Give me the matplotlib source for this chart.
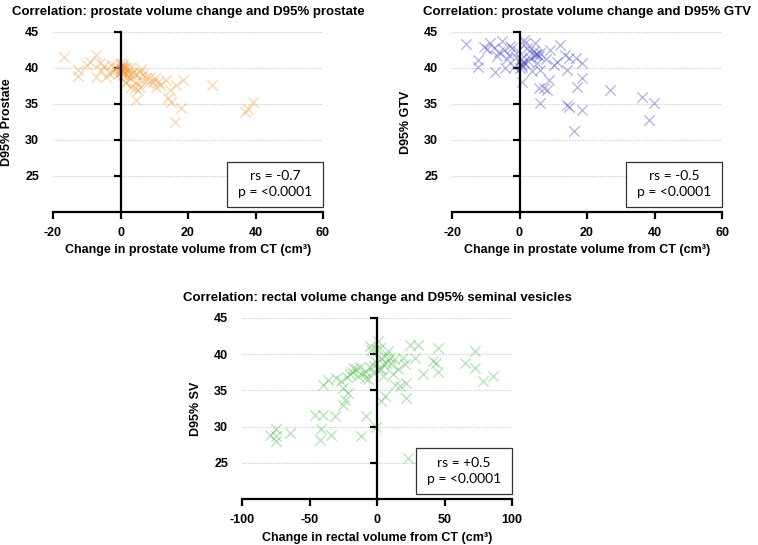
import matplotlib
matplotlib.use("Agg")
import matplotlib.pyplot as plt
from matplotlib.patches import Rectangle

plt.rcParams['font.family'] = ['Liberation Sans', 'DejaVu Sans']
plt.rcParams['axes.unicode_minus'] = False

# ---------------- data ----------------
# Panel 1: prostate volume change vs D95% prostate
p1_x = [-16.8, -12.6, -12.6, -9.1, -7.2, -6.2, -7.2, -5.7, -4.2, -2.7, -2.2, -1.2, -0.7,
        -0.2, 0.2, 0.7, 0.0, 1.2, 0.3, 0.5, 0.4, 0.8, 0.1, 2.2, 2.7, 3.2, 4.7, 6.2, 6.7,
        8.1, 8.6, 10.1, 11.1, 11.6, 3.2, 4.2, 5.2, 1.2, 0.7, 1.7, 3.7, 4.7, 5.7, 4.7,
        5.7, 7.7, 9.6, 10.6, 13.6, 14.6, 14.1, 15.1, 16.0, 16.5, 18.5, 18.0, 27.0, 36.8,
        37.8, 39.3, -3.5, -1.5, 1.8, 2.0, 3.0, 6.0, -4.8, -9.8, 0.6, 1.0]
p1_y = [41.5, 39.75, 38.9, 40.9, 41.8, 40.7, 38.8, 39.75, 38.8, 40.4, 39.5, 40.2, 39.1,
        40.7, 40.0, 39.75, 39.5, 40.2, 40.4, 39.9, 39.6, 40.1, 39.8, 39.5, 38.6, 40.2, 39.1, 38.4, 39.1,
        37.9, 38.8, 38.6, 38.1, 37.7, 37.4, 37.2, 37.0, 38.1, 39.0, 37.9, 39.5, 38.1, 37.4, 35.6,
        39.5, 38.6, 38.1, 37.4, 38.4, 37.0, 35.8, 35.3, 32.5, 37.7, 38.4, 34.5, 37.7, 33.9,
        34.3, 35.3, 39.3, 39.9, 40.0, 38.9, 39.2, 39.8, 40.3, 40.4, 40.6, 39.3]

# Panel 2: prostate volume change vs D95% GTV
p2_x = [-16.0, -12.3, -12.3, -8.6, -7.7, -7.2, -6.7, -5.2, -4.7, -4.2, -3.2, -2.2, -1.7,
        0.3, 0.6, 1.0, 0.1, 0.8, 1.2, 1.7, 2.2, 0.7, 3.2, 4.2, 4.7, 5.2, 5.7, 6.2, 5.2, 6.2,
        5.7, 6.2, 7.2, 8.1, 8.6, 9.1, 10.1, 11.1, 12.1, 13.6, 14.1, 14.6, 14.1, 14.6, 16.1,
        16.6, 17.0, 18.5, 18.5, 18.5, 26.9, 36.3, 38.3, 39.8, -9.5, -6.0, -3.8, -1.0, -0.5,
        2.5, 3.8, 4.5, 5.0, 0.4, 1.4, 2.8, -2.8, 7.8, -10.5]
p2_y = [43.3, 41.1, 40.1, 43.5, 42.8, 39.5, 41.6, 43.7, 42.5, 40.0, 41.8, 42.8, 40.2,
        40.5, 40.2, 40.8, 40.0, 40.4, 43.9, 43.5, 42.8, 38.1, 41.4, 42.3, 43.5, 41.9, 41.6, 42.1, 40.7, 39.7,
        37.2, 35.1, 37.2, 37.0, 38.4, 42.5, 40.4, 40.9, 43.2, 41.8, 39.7, 41.4, 34.9, 34.6, 31.2,
        41.4, 37.4, 40.7, 38.6, 34.2, 37.0, 36.0, 32.8, 35.1, 42.6, 42.2, 41.2, 41.5, 42.3,
        41.0, 39.6, 41.8, 42.0, 41.2, 40.9, 42.4, 43.0, 41.3, 42.9]

# Panel 3: rectal volume change vs D95% seminal vesicles
p3_x = [-79.5, -75.1, -74.6, -75.1, -64.7, -46.2, -40.0, -31.4, -41.2, -42.5, -33.8,
        -40.0, -36.3, -30.1, -26.4, -25.2, -25.2, -24.0, -21.5, -20.2, -17.8, -15.3, -14.1,
        -12.8, -10.4, -9.1, -11.6, -7.9, -5.4, -4.2, -5.4, -3.0, -1.7, 0.7, 2.0, 3.2, 4.4,
        3.2, 4.4, 3.2, 5.7, 6.9, 8.1, 9.4, 10.6, 11.8, 13.1, 15.5, 16.8, 19.3, 20.5, 21.7,
        21.7, 23.0, 24.2, 30.4, 27.9, 34.1, 41.5, 44.0, 45.2, 45.2, 65.0, 72.4, 72.4, 78.5,
        85.9, -0.5, -2.0, -8.0, -18.5, -22.0, 1.5, 6.0, -1.0, -6.5, 12.5]
p3_y = [28.9, 29.6, 28.7, 28.0, 29.1, 31.6, 31.6, 31.4, 29.6, 28.2, 28.9,
        35.8, 36.5, 36.7, 36.3, 35.3, 33.0, 33.7, 34.6, 37.2, 38.1, 37.9, 37.0,
        38.3, 37.4, 36.7, 28.7, 31.4, 41.1, 40.6, 38.3, 37.6, 39.0, 41.8, 40.9, 39.5, 38.6,
        37.9, 37.0, 33.5, 34.2, 38.8, 40.4, 39.5, 38.6, 37.2, 35.8, 37.9, 35.6, 39.5, 38.6, 36.0,
        33.9, 25.7, 41.3, 41.3, 39.5, 37.2, 39.0, 38.8, 40.8, 37.6, 38.8, 40.4, 38.1, 36.3,
        37.0, 30.0, 38.4, 37.5, 37.6, 36.8, 38.0, 39.8, 40.7, 36.6, 39.4]

panels = [
    dict(x=p1_x, y=p1_y, color='#EE9A3A',
         title='Correlation: prostate volume change and D95% prostate',
         ylabel='D95% Prostate', xlabel='Change in prostate volume from CT (cm³)',
         xlim=(-20, 60), xticks=[-20, 0, 20, 40, 60], stats='rs = -0.7\np = <0.0001',
         rect=[53, 32, 270, 180]),
    dict(x=p2_x, y=p2_y, color='#4848B8',
         title='Correlation: prostate volume change and D95% GTV',
         ylabel='D95% GTV', xlabel='Change in prostate volume from CT (cm³)',
         xlim=(-20, 60), xticks=[-20, 0, 20, 40, 60], stats='rs = -0.5\np = <0.0001',
         rect=[452, 32, 270, 180]),
    dict(x=p3_x, y=p3_y, color='#4CB84C',
         title='Correlation: rectal volume change and D95% seminal vesicles',
         ylabel='D95% SV', xlabel='Change in rectal volume from CT (cm³)',
         xlim=(-100, 100), xticks=[-100, -50, 0, 50, 100], stats='rs = +0.5\np = <0.0001',
         rect=[242, 318, 270, 181]),
]
yticks = [25, 30, 35, 40, 45]

W, H = 758, 545
fig = plt.figure(figsize=(W / 100, H / 100), dpi=100)

for p in panels:
    l, t, w, h = p['rect']
    ax = fig.add_axes([l / W, 1 - (t + h) / H, w / W, h / H])
    ax.set_xlim(*p['xlim'])
    ax.set_ylim(20, 45)
    ax.scatter(p['x'], p['y'], marker='x', s=55, linewidths=0.9,
               color=p['color'], alpha=0.42, zorder=3)
    # spines
    for s in ['top', 'right']:
        ax.spines[s].set_visible(False)
    ax.spines['left'].set_position(('data', 0))
    ax.spines['left'].set_linewidth(1.6)
    ax.spines['bottom'].set_linewidth(1.6)
    ax.spines['left'].set_zorder(4)
    ax.set_yticks(yticks)
    ax.tick_params(axis='y', direction='out', length=5, width=1.6, labelleft=False)
    ax.set_xticks(p['xticks'])
    ax.tick_params(axis='x', direction='out', length=5, width=1.6, pad=6)
    for lab in ax.get_xticklabels():
        lab.set_fontweight('bold')
        lab.set_fontsize(9)
    ax.yaxis.grid(True, color='#d4d4d4', linestyle=(0, (1.5, 1)), linewidth=0.8)
    ax.set_axisbelow(True)
    # y tick labels at left edge
    sec = ax.secondary_yaxis('left')
    sec.set_yticks(yticks)
    sec.spines['left'].set_visible(False)
    sec.tick_params(length=0, pad=10)
    for lab in sec.get_yticklabels():
        lab.set_fontweight('bold')
        lab.set_fontsize(9)
    ax.set_ylabel(p['ylabel'], fontsize=9, fontweight='bold')
    ax.yaxis.set_label_coords(-0.148, 0.5)
    ax.set_xlabel(p['xlabel'], fontsize=9, fontweight='bold')
    ax.xaxis.set_label_coords(0.5, -0.18)
    ax.set_title(p['title'], fontsize=9.5, fontweight='bold', pad=12)
    # stats box
    ax.add_patch(Rectangle((0.645, 0.03), 0.355, 0.25, transform=ax.transAxes,
                           facecolor='white', edgecolor='#333333', linewidth=0.9,
                           zorder=5, clip_on=False))
    ax.text(0.8225, 0.155, p['stats'], transform=ax.transAxes, ha='center',
            va='center', fontsize=10, family=['Lato', 'DejaVu Sans'],
            linespacing=1.35, zorder=6)

fig.savefig('out.png', dpi=100)
